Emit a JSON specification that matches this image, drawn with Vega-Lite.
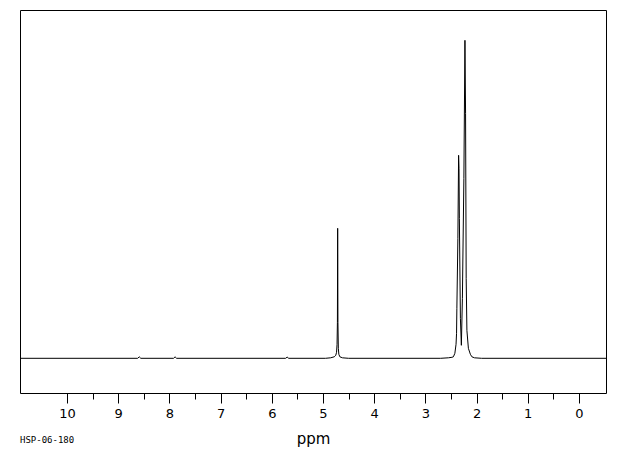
{
  "$schema": "https://vega.github.io/schema/vega-lite/v6.json",
  "autosize": {"type": "none"},
  "padding": {"left": 20, "top": 10, "right": 14, "bottom": 62},
  "width": 586,
  "height": 383,
  "background": "white",
  "config": {
    "view": {"stroke": "black", "strokeWidth": 1},
    "font": "DejaVu Sans"
  },
  "title": {
    "text": "HSP-06-180",
    "orient": "bottom",
    "anchor": "start",
    "frame": "group",
    "fontSize": 9,
    "fontWeight": "normal",
    "font": "DejaVu Sans Mono",
    "color": "black",
    "offset": -10
  },
  "data": {
    "values": [
      {"ppm": 10.92, "intensity": 0},
      {"ppm": 8.62, "intensity": 0},
      {"ppm": 8.59, "intensity": 1.5},
      {"ppm": 8.56, "intensity": 0},
      {"ppm": 7.92, "intensity": 0},
      {"ppm": 7.89, "intensity": 1.5},
      {"ppm": 7.86, "intensity": 0},
      {"ppm": 5.73, "intensity": 0},
      {"ppm": 5.70, "intensity": 1.2},
      {"ppm": 5.67, "intensity": 0},
      {"ppm": 4.95, "intensity": 0},
      {"ppm": 4.85, "intensity": 0.5},
      {"ppm": 4.78, "intensity": 1.5},
      {"ppm": 4.75, "intensity": 3},
      {"ppm": 4.735, "intensity": 6},
      {"ppm": 4.725, "intensity": 14},
      {"ppm": 4.718, "intensity": 36},
      {"ppm": 4.713, "intensity": 130},
      {"ppm": 4.708, "intensity": 36},
      {"ppm": 4.70, "intensity": 10},
      {"ppm": 4.69, "intensity": 4},
      {"ppm": 4.67, "intensity": 1.5},
      {"ppm": 4.62, "intensity": 0.5},
      {"ppm": 4.5, "intensity": 0},
      {"ppm": 2.70, "intensity": 0},
      {"ppm": 2.55, "intensity": 0.5},
      {"ppm": 2.48, "intensity": 1},
      {"ppm": 2.452, "intensity": 1.5},
      {"ppm": 2.423, "intensity": 5},
      {"ppm": 2.40, "intensity": 14},
      {"ppm": 2.39, "intensity": 25},
      {"ppm": 2.384, "intensity": 50},
      {"ppm": 2.364, "intensity": 120},
      {"ppm": 2.35, "intensity": 203},
      {"ppm": 2.342, "intensity": 190},
      {"ppm": 2.335, "intensity": 140},
      {"ppm": 2.315, "intensity": 40},
      {"ppm": 2.296, "intensity": 13},
      {"ppm": 2.276, "intensity": 60},
      {"ppm": 2.247, "intensity": 180},
      {"ppm": 2.226, "intensity": 318},
      {"ppm": 2.214, "intensity": 245},
      {"ppm": 2.202, "intensity": 80},
      {"ppm": 2.188, "intensity": 28},
      {"ppm": 2.159, "intensity": 10},
      {"ppm": 2.12, "intensity": 4},
      {"ppm": 2.09, "intensity": 1.5},
      {"ppm": 2.04, "intensity": 0.5},
      {"ppm": 1.9, "intensity": 0},
      {"ppm": -0.53, "intensity": 0}
    ]
  },
  "mark": {"type": "line", "color": "black", "strokeWidth": 1, "clip": true},
  "encoding": {
    "x": {
      "field": "ppm",
      "type": "quantitative",
      "scale": {"domain": [10.92, -0.53], "nice": false, "zero": false},
      "axis": {
        "title": "ppm",
        "titleFont": "DejaVu Sans",
        "titleFontSize": 15,
        "titleFontWeight": "normal",
        "titleColor": "black",
        "titlePadding": 11,
        "values": [10, 9.5, 9, 8.5, 8, 7.5, 7, 6.5, 6, 5.5, 5, 4.5, 4, 3.5, 3, 2.5, 2, 1.5, 1, 0.5, 0],
        "labelExpr": "datum.value % 1 === 0 ? format(datum.value, 'd') : ''",
        "labelFont": "DejaVu Sans",
        "labelFontSize": 13,
        "labelColor": "black",
        "labelPadding": 4,
        "labelFlush": false,
        "labelOverlap": false,
        "domain": false,
        "grid": false,
        "tickColor": "black",
        "tickWidth": 1,
        "tickSize": {"condition": {"test": "datum.value % 1 !== 0", "value": 6}, "value": 10}
      }
    },
    "y": {
      "field": "intensity",
      "type": "quantitative",
      "scale": {"domain": [-34.7, 348.3], "nice": false, "zero": false},
      "axis": null
    }
  }
}
